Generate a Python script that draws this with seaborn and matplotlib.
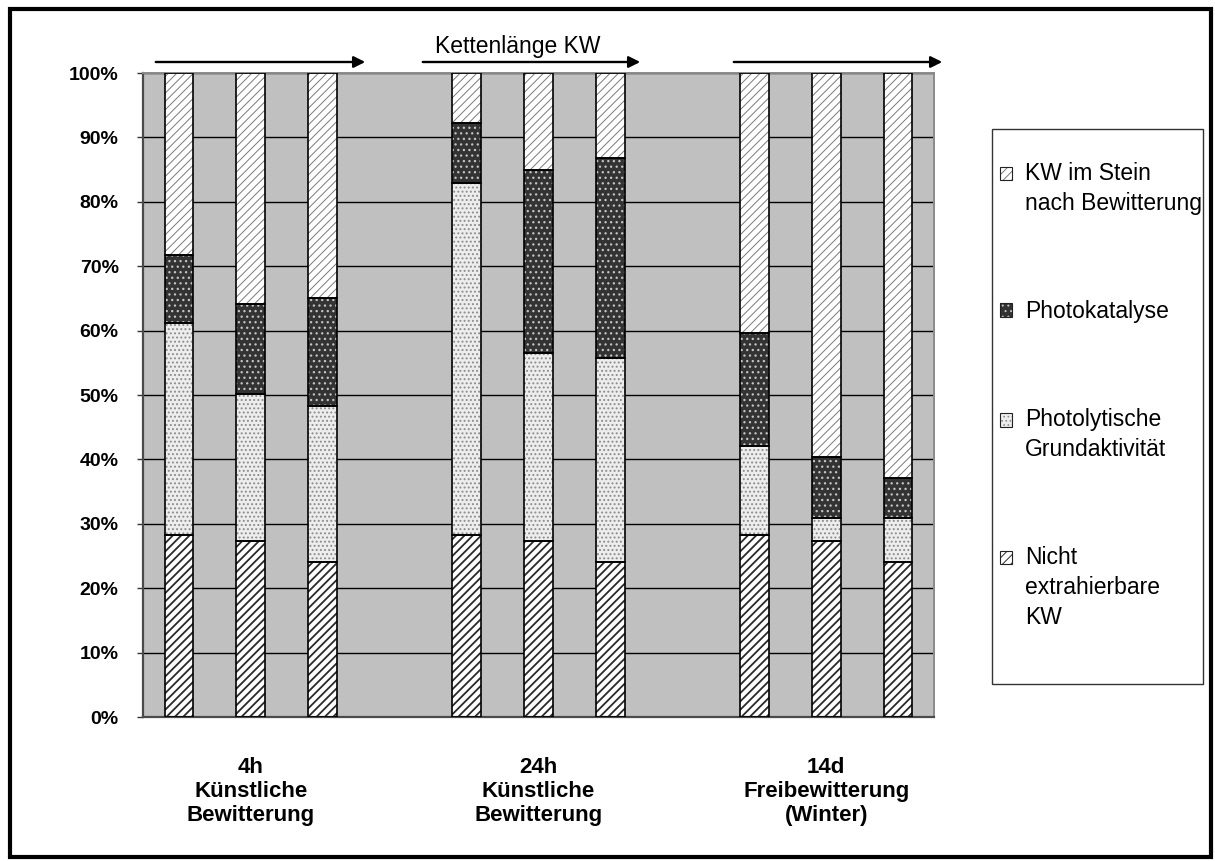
import matplotlib
matplotlib.use("Agg")
import matplotlib.pyplot as plt
import matplotlib.patches as mpatches
from matplotlib.legend_handler import HandlerBase
from matplotlib.ticker import FuncFormatter, MultipleLocator
import pandas as pd
import seaborn as sns

# bar positions (three groups of three bars, one empty slot between groups)
positions = [0, 1, 2, 4, 5, 6, 8, 9, 10]
group_centers = [1, 5, 9]
group_labels = [
    "4h\nKünstliche\nBewitterung",
    "24h\nKünstliche\nBewitterung",
    "14d\nFreibewitterung\n(Winter)",
]

# shares in percent, bottom to top
nicht_extrahierbar = [28.3, 27.3, 24.1, 28.3, 27.3, 24.1, 28.3, 27.3, 24.1]
photolytisch = [32.9, 22.9, 24.2, 54.6, 29.2, 31.6, 13.8, 3.6, 6.8]
photokatalyse = [10.5, 13.9, 16.8, 9.4, 28.4, 31.1, 17.6, 9.5, 6.2]
kw_im_stein = [28.3, 35.9, 34.9, 7.7, 15.1, 13.2, 40.3, 59.6, 62.9]

series_names = [
    "Nicht\nextrahierbare\nKW",
    "Photolytische\nGrundaktivität",
    "Photokatalyse",
    "KW im Stein\nnach Bewitterung",
]
series_values = [nicht_extrahierbar, photolytisch, photokatalyse, kw_im_stein]

# face colour, hatch colour, hatch pattern, hatch line width
styles = [
    ("#ffffff", "#2a2a2a", "////", 1.3),
    ("#ededed", "#8c8c8c", "....", 0.9),
    ("#333333", "#c4c4c4", "...", 0.9),
    ("#ffffff", "#7a7a7a", "////", 0.7),
]

sns.set_theme(style="white")
plt.rcParams["font.family"] = ["Liberation Sans", "DejaVu Sans"]
plt.rcParams["text.color"] = "black"
plt.rcParams["xtick.color"] = "black"
plt.rcParams["ytick.color"] = "black"

fig = plt.figure(figsize=(12.15, 8.61), dpi=100)
W, H = 1215, 861
ax = fig.add_axes([143 / W, 1 - 717 / H, 791 / W, 644 / H])
ax.set_facecolor("#c0c0c0")

df = pd.DataFrame({"pos": positions})
bottom = [0.0] * len(positions)
for name, vals, (face, hcol, hatch, hlw) in zip(series_names, series_values, styles):
    frac = [v / 100 for v in vals]
    df["val"] = frac
    plt.rcParams["hatch.linewidth"] = hlw
    sns.barplot(data=df, x="pos", y="val", native_scale=True, width=0.4,
                bottom=bottom, color=face, saturation=1, edgecolor=hcol,
                linewidth=0, hatch=hatch, errorbar=None, ax=ax, zorder=2)
    sns.barplot(data=df, x="pos", y="val", native_scale=True, width=0.4,
                bottom=bottom, color="black", fill=False, saturation=1,
                linewidth=1.2, errorbar=None, ax=ax, zorder=3)
    bottom = [b + f for b, f in zip(bottom, frac)]

ax.set_xlim(-0.5, 10.5)
ax.set_ylim(0, 1)
ax.yaxis.set_major_locator(MultipleLocator(0.1))
ax.yaxis.set_major_formatter(FuncFormatter(lambda v, _: f"{v * 100:.0f}%"))
ax.grid(axis="y", color="black", linewidth=1.0, zorder=1)
ax.set_axisbelow(True)
ax.set_xticks(group_centers)
ax.set_xticklabels(group_labels, fontsize=16, fontweight="bold", linespacing=1.17)
ax.tick_params(axis="x", length=0, pad=29)
ax.tick_params(axis="y", length=4.5, width=1, color="#333333", pad=13,
               labelsize=14, direction="out", left=True)
for lbl in ax.get_yticklabels():
    lbl.set_fontweight("bold")
ax.set_xlabel("")
ax.set_ylabel("")
for side in ("left", "bottom"):
    ax.spines[side].set_color("#4a4a4a")
    ax.spines[side].set_linewidth(1.6)
for side in ("top", "right"):
    ax.spines[side].set_color("#8a8a8a")
    ax.spines[side].set_linewidth(1.4)

# arrows above the groups and their caption
arrow_spans = [(153, 368), (420, 643), (731, 945)]
for x0, x1 in arrow_spans:
    fig.add_artist(mpatches.FancyArrowPatch(
        (x0 / W, 1 - 62 / H), (x1 / W, 1 - 62 / H), transform=fig.transFigure,
        arrowstyle="-|>", mutation_scale=17, linewidth=1.7, color="black"))
fig.text(518 / W, 1 - 47 / H, "Kettenlänge KW", fontsize=16.5,
         ha="center", va="center")


# legend key drawn next to the first line of a multi-line label
class FirstLineKey(HandlerBase):
    def __init__(self, shift):
        super().__init__()
        self.shift = shift

    def create_artists(self, legend, orig_handle, xdescent, ydescent,
                       width, height, fontsize, trans):
        y0 = -ydescent + self.shift
        fillp = mpatches.Rectangle((-xdescent, y0), width, height,
                                   facecolor=orig_handle.get_facecolor(),
                                   edgecolor=orig_handle.get_edgecolor(),
                                   hatch=orig_handle.get_hatch(), linewidth=0,
                                   transform=trans)
        edge = mpatches.Rectangle((-xdescent, y0), width, height, fill=False,
                                  edgecolor="#222222", linewidth=0.8,
                                  transform=trans)
        return [fillp, edge]


line_pt = 22.3
handles = [mpatches.Patch(facecolor=face, edgecolor=hcol, hatch=hatch)
           for face, hcol, hatch, _ in styles]
handler_map = {h: FirstLineKey((n.count("\n")) / 2 * line_pt)
               for h, n in zip(handles, series_names)}
leg = fig.legend(handles[::-1], series_names[::-1], loc="upper left",
                 bbox_to_anchor=(1000 / W, 1 - 162 / H), frameon=False,
                 fontsize=16.5, labelspacing=3.72, handlelength=0.52,
                 handleheight=0.52, handletextpad=0.57, borderpad=0,
                 borderaxespad=0, handler_map=handler_map)
for t in leg.get_texts():
    t.set_linespacing(1.38)
fig.add_artist(mpatches.Rectangle((992 / W, 1 - 684 / H), 211 / W, 555 / H,
                                  transform=fig.transFigure, fill=False,
                                  edgecolor="#333333", linewidth=1.0))

# outer frame
fig.add_artist(mpatches.Rectangle((10.5 / W, 4.5 / H), 1200 / W, 848 / H,
                                  transform=fig.transFigure, fill=False,
                                  edgecolor="black", linewidth=3.0))

fig.savefig("out.png", dpi=100, facecolor="white")
